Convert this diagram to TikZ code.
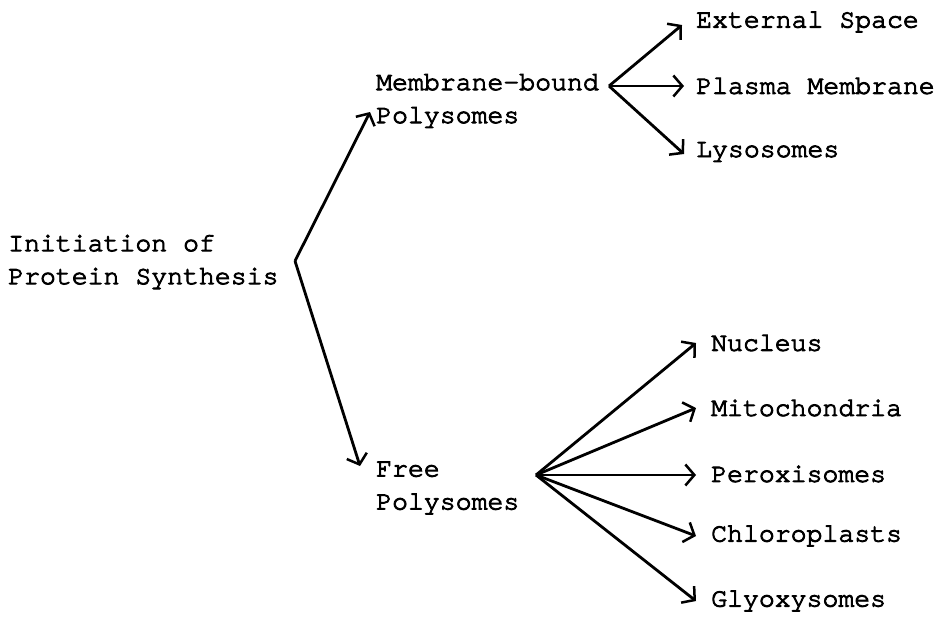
\documentclass[tikz,border=0pt]{standalone}
\usepackage{fontspec}
\setmonofont[FakeBold=3.5]{TeX Gyre Cursor}
\usetikzlibrary{arrows.meta}
\begin{document}
\begin{tikzpicture}[x=1pt,y=-1pt,
  lbl/.style={anchor=west,inner sep=0pt,font=\fontsize{26.5}{33}\selectfont\ttfamily,align=left},
  arr/.style={line width=2.8pt,-{Straight Barb[length=9pt,width=21pt,line width=2.5pt]}}]
\useasboundingbox (0,0) rectangle (937,619);
% left
\node[lbl] (init) at (8,262) {Initiation of\\Protein Synthesis};
\coordinate (iv) at (295,261);
\node[lbl] (mb) at (376,101) {Membrane-bound\\Polysomes};
\node[lbl] (fp) at (376,488) {Free\\Polysomes};
% upper targets
\node[lbl] (ext) at (696,22) {External Space};
\node[lbl] (pm) at (696,86) {Plasma Membrane};
\node[lbl] (lys) at (696,152) {Lysosomes};
% lower targets
\node[lbl] (nuc) at (711,343) {Nucleus};
\node[lbl] (mit) at (711,408) {Mitochondria};
\node[lbl] (per) at (711,474) {Peroxisomes};
\node[lbl] (chl) at (711,536) {Chloroplasts};
\node[lbl] (gly) at (711,601) {Glyoxysomes};
% fan origins
\coordinate (mbo) at (609,86);
\coordinate (fpo) at (536,475);
% connectors
\draw[arr] (iv) -- ([xshift=-6pt]mb.west |- 0,112);
\draw[arr] (iv) -- ([xshift=-16pt]fp.west |- 0,466);
\draw[arr] (mbo) -- ([xshift=-14pt,yshift=-3pt]ext.west);
\draw[arr] (mbo) -- ([xshift=-12pt]mbo -| pm.west);
\draw[arr] (mbo) -- ([xshift=-12pt,yshift=-2pt]lys.west);
\draw[arr] (fpo) -- ([xshift=-15pt]nuc.west);
\draw[arr] (fpo) -- ([xshift=-15pt]mit.west);
\draw[arr] (fpo) -- ([xshift=-15pt]fpo -| per.west);
\draw[arr] (fpo) -- ([xshift=-15pt]chl.west);
\draw[arr] (fpo) -- ([xshift=-15pt]gly.west);
\end{tikzpicture}
\end{document}
